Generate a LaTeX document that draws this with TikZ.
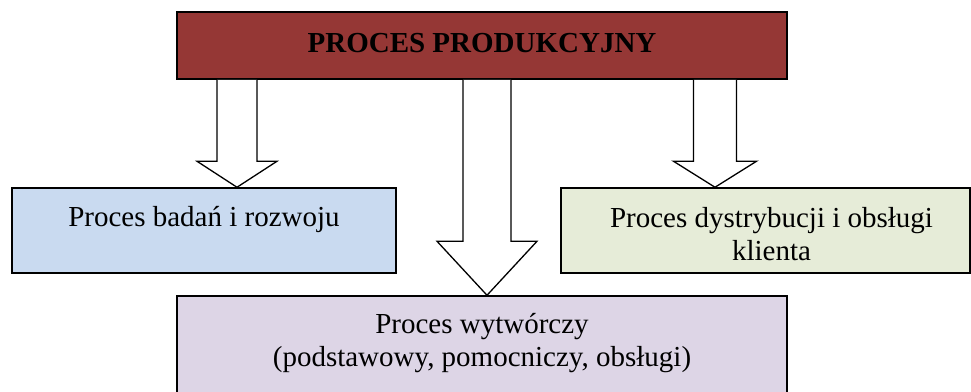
\documentclass[tikz,border=0pt]{standalone}
\usepackage{fontspec}
\setmainfont{Liberation Serif}
\usetikzlibrary{calc}

\definecolor{titlered}{HTML}{953735}
\definecolor{rdblue}{HTML}{C9DAF0}
\definecolor{distgreen}{HTML}{E6ECD8}
\definecolor{prodlilac}{HTML}{DDD5E6}

\tikzset{
  procbox/.style={draw=black, line width=1.5pt, rectangle, inner sep=0pt,
    align=center, font=\fontsize{29}{33}\selectfont},
  proctext/.style={inner sep=0pt, align=center, font=\fontsize{29}{33}\selectfont},
  blockarrow/.style={draw=black, fill=white, line width=1.3pt, line join=miter},
}

% hollow block arrow going straight down from node #1 to node #2
% #3 centre x, #4 shaft half width, #5 head half width, #6 head length
\newcommand\hollowarrow[6]{%
  \draw[blockarrow] let \p1=(#1.south), \p2=(#2.north) in
    (#3-#4,\y1) -- (#3-#4,\y2+#6) -- (#3-#5,\y2+#6) -- (#3,\y2)
    -- (#3+#5,\y2+#6) -- (#3+#4,\y2+#6) -- (#3+#4,\y1);}

\begin{document}
\begin{tikzpicture}[x=1pt,y=1pt]
  \useasboundingbox (0,0) rectangle (971,-391);

  \node[procbox, fill=titlered, minimum width=610pt, minimum height=67pt,
        text height=20pt, text depth=7pt, font=\fontsize{29}{33}\selectfont\bfseries]
    (top) at (482,-45.5) {PROCES PRODUKCYJNY};

  \node[procbox, fill=rdblue, minimum width=384pt, minimum height=85pt,
        text height=20pt, text depth=29pt]
    (rd) at (204,-230.5) {Proces badań i rozwoju};

  % text sits a little right of the box centre
  \node[procbox, fill=distgreen, minimum width=409pt, minimum height=85pt]
    (dist) at (765.5,-230.5) {};
  \node[proctext, text height=60pt, text depth=1pt]
    (disttext) at ([xshift=6pt]dist.center) {Proces dystrybucji i obsługi\\klienta};

  \node[procbox, fill=prodlilac, minimum width=610pt, minimum height=114pt,
        text height=34pt, text depth=8pt]
    (prod) at (482,-353) {Proces wytwórczy\\(podstawowy, pomocniczy, obsługi)};

  \hollowarrow{top}{rd}{237}{20}{40}{26}
  \hollowarrow{top}{prod}{487}{24}{50}{54}
  \hollowarrow{top}{dist}{715}{21.5}{41.5}{26}
\end{tikzpicture}
\end{document}
